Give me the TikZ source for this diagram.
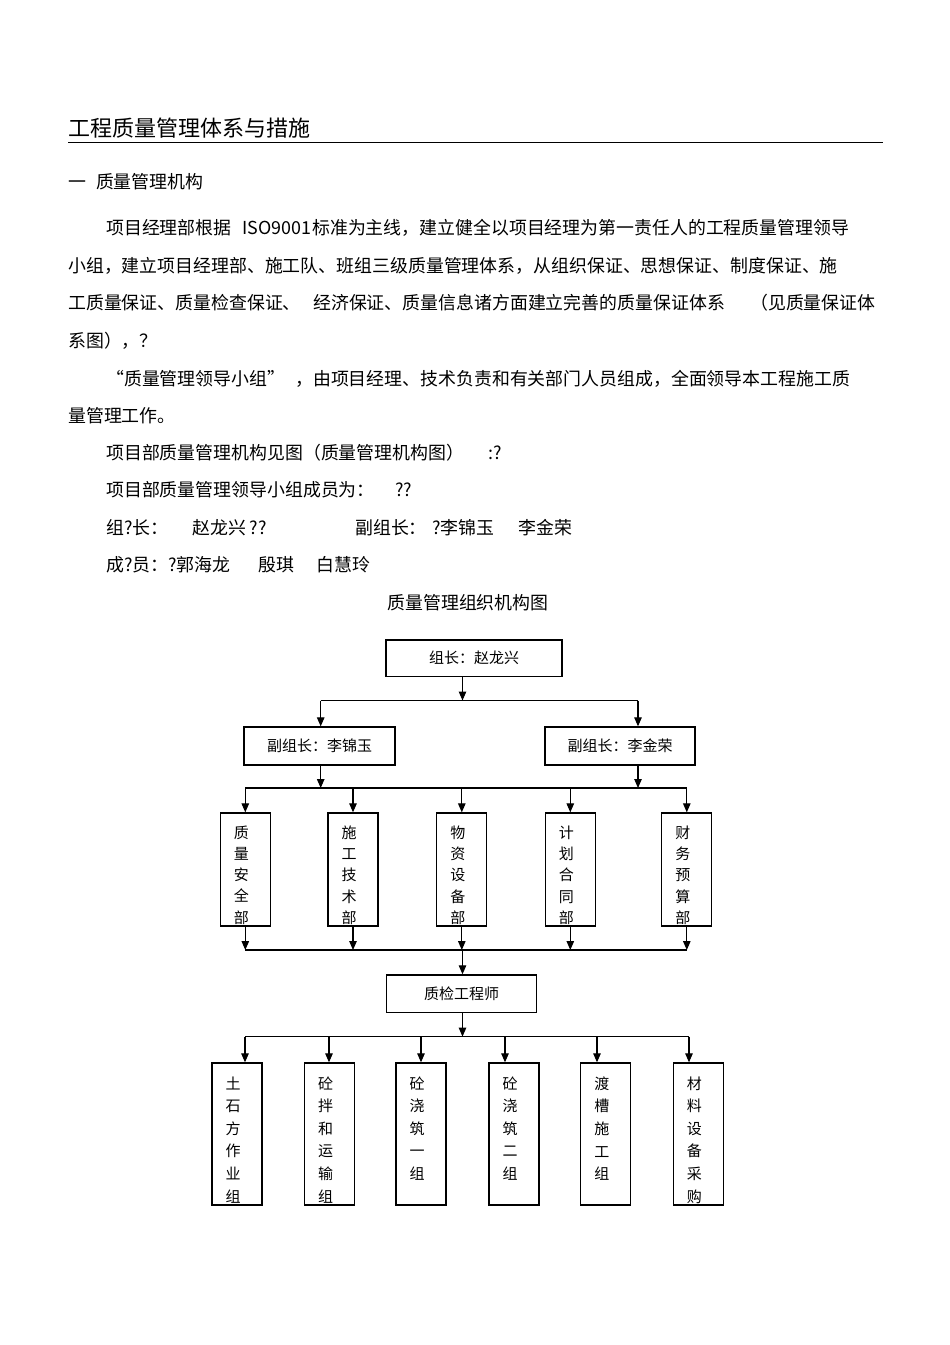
\documentclass[tikz,border=0pt]{standalone}
\usepackage{fontspec}
\setmainfont{Noto Sans CJK SC}
\newfontfamily\zhfull[CharacterWidth=Full]{Noto Sans CJK SC}
\usetikzlibrary{arrows.meta,positioning}

\begin{document}
\begin{tikzpicture}[x=1pt, y=-1pt,
    txt/.style={anchor=base west, inner sep=0pt, font=\fontsize{17.9}{20}\selectfont},
    hbox/.style={draw, line width=1.3pt, inner sep=0pt, font=\fontsize{15}{18}\selectfont},
    vbox/.style={draw, line width=1.3pt, inner sep=0pt, minimum width=50pt},
    vtxt/.style={anchor=north, inner sep=0pt, align=center, xshift=-4pt,
        font=\fontsize{15}{#1}\selectfont},
    arr/.style={-{Triangle[length=9pt,width=7.5pt]}, line width=1.1pt},
    bus/.style={line width=1.1pt}]
\useasboundingbox (0,0) rectangle (950,1345);
\fill[white] (0,0) rectangle (950,1345);

% heading and text
\node[txt, font=\fontsize{22}{24}\selectfont] (title) at (68,136.4) {工程质量管理体系与措施};
\draw[line width=1pt] (68,142) -- (883,142);
\node[txt] (sec) at (68,188.8) {一\hspace{10pt}质量管理机构};
\node[txt] (p1a) at (106,234.8) {项目经理部根据};
\node[txt] (p1b) at (242,234.8) {ISO9001};
\node[txt] (p1c) at (312,234.8) {标准为主线，建立健全以项目经理为第一责任人的工程质量管理领导};
\node[txt] (p2)  at (68,272.8) {小组，建立项目经理部、施工队、班组三级质量管理体系，从组织保证、思想保证、制度保证、施};
\node[txt] (p3a) at (68,309.8) {工质量保证、质量检查保证、};
\node[txt] (p3b) at (313,309.8) {经济保证、质量信息诸方面建立完善的质量保证体系};
\node[txt] (p3c) at (750,309.8) {（见质量保证体};
\node[txt] (p4)  at (68,347.8) {系图），？};
\node[txt] (p5a) at (106,385.8) {\zhfull “质量管理领导小组”};
\node[txt] (p5b) at (295,385.8) {，由项目经理、技术负责和有关部门人员组成，全面领导本工程施工质};
\node[txt] (p6)  at (68,422.8) {量管理工作。};
\node[txt] (p7a) at (106,459.8) {项目部质量管理机构见图（质量管理机构图）};
\node[txt] (p7b) at (488,459.8) {:?};
\node[txt] (p8a) at (106,496.8) {项目部质量管理领导小组成员为：};
\node[txt] (p8b) at (395,496.8) {??};
\node[txt] (p9a) at (106,534.8) {组?长：};
\node[txt] (p9b) at (192,534.8) {赵龙兴 ??};
\node[txt] (p9c) at (355,534.8) {副组长：};
\node[txt] (p9d) at (432,534.8) {?李锦玉};
\node[txt] (p9e) at (518,534.8) {李金荣};
\node[txt] (p10a) at (106,571.8) {成?员：?郭海龙};
\node[txt] (p10b) at (258,571.8) {殷琪};
\node[txt] (p10c) at (316,571.8) {白慧玲};
\node[txt, anchor=base] (cap) at (468,609.8) {质量管理组织机构图};

% chart boxes
\node[hbox, minimum width=176pt, minimum height=36.7pt] (lead) at (474,658.3) {组长：赵龙兴};
\node[hbox, minimum width=151pt, minimum height=38pt] (vl1) at (319.5,746) {副组长：李锦玉};
\node[hbox, minimum width=150pt, minimum height=38pt] (vl2) at (620,746) {副组长：李金荣};

\node[vbox, minimum height=113pt] (d1) at (245.3,869.5) {};
\node[vbox, minimum height=113pt] (d2) at (353,869.5) {};
\node[vbox, minimum height=113pt] (d3) at (461.8,869.5) {};
\node[vbox, minimum height=113pt] (d4) at (570.3,869.5) {};
\node[vbox, minimum height=113pt] (d5) at (686.8,869.5) {};
\node[vtxt=21.3] (d1t) at ([yshift=-13pt]d1.north) {质\\量\\安\\全\\部};
\node[vtxt=21.3] (d2t) at ([yshift=-13pt]d2.north) {施\\工\\技\\术\\部};
\node[vtxt=21.3] (d3t) at ([yshift=-13pt]d3.north) {物\\资\\设\\备\\部};
\node[vtxt=21.3] (d4t) at ([yshift=-13pt]d4.north) {计\\划\\合\\同\\部};
\node[vtxt=21.3] (d5t) at ([yshift=-13pt]d5.north) {财\\务\\预\\算\\部};

\node[hbox, minimum width=150pt, minimum height=37.7pt] (qc) at (461.7,993.8) {质检工程师};

\node[vbox, minimum height=142pt] (g1) at (237,1134) {};
\node[vbox, minimum height=142pt] (g2) at (329.6,1134) {};
\node[vbox, minimum height=142pt] (g3) at (421,1134) {};
\node[vbox, minimum height=142pt] (g4) at (514,1134) {};
\node[vbox, minimum height=142pt] (g5) at (605.8,1134) {};
\node[vbox, minimum height=142pt] (g6) at (698.4,1134) {};
\node[vtxt=22.6] (g1t) at ([yshift=-14pt]g1.north) {土\\石\\方\\作\\业\\组};
\node[vtxt=22.6] (g2t) at ([yshift=-14pt]g2.north) {砼\\拌\\和\\运\\输\\组};
\node[vtxt=22.6] (g3t) at ([yshift=-14pt]g3.north) {砼\\浇\\筑\\一\\组};
\node[vtxt=22.6] (g4t) at ([yshift=-14pt]g4.north) {砼\\浇\\筑\\二\\组};
\node[vtxt=22.6] (g5t) at ([yshift=-14pt]g5.north) {渡\\槽\\施\\工\\组};
\node[vtxt=22.6] (g6t) at ([yshift=-14pt]g6.north) {材\\料\\设\\备\\采\\购};

% buses
\coordinate (m) at (462.5,0);
\coordinate (b1l) at (320.7,700.5);
\coordinate (b1r) at (638,700.5);
\coordinate (b2l) at (245.3,788);
\coordinate (b2r) at (686.8,788);
\coordinate (b3l) at (245.3,950);
\coordinate (b3r) at (686.8,950);
\coordinate (t1) at (245,1036.6);
\coordinate (t2) at (329,1036.6);
\coordinate (t3) at (421,1036.6);
\coordinate (t4) at (505,1036.6);
\coordinate (t5) at (597,1036.6);
\coordinate (t6) at (689,1036.6);
\draw[bus] (b1l) -- (b1r);
\draw[bus] (b2l) -- (b2r);
\draw[bus] (b3l) -- (b3r);
\draw[bus] (t1) -- (t6);

% connectors
\draw[arr] (lead.south -| m) -- (b1l -| m);
\draw[arr] (b1l) -- (b1l |- vl1.north);
\draw[arr] (b1r) -- (b1r |- vl2.north);
\draw[arr] (vl1.south -| b1l) -- (b2l -| b1l);
\draw[arr] (vl2.south -| b1r) -- (b2l -| b1r);
\draw[arr] (d1.north |- b2l) -- (d1.north);
\draw[arr] (d2.north |- b2l) -- (d2.north);
\draw[arr] (d3.north |- b2l) -- (d3.north);
\draw[arr] (d4.north |- b2l) -- (d4.north);
\draw[arr] (d5.north |- b2l) -- (d5.north);
\draw[arr] (d1.south) -- (d1.south |- b3l);
\draw[arr] (d2.south) -- (d2.south |- b3l);
\draw[arr] (d3.south) -- (d3.south |- b3l);
\draw[arr] (d4.south) -- (d4.south |- b3l);
\draw[arr] (d5.south) -- (d5.south |- b3l);
\draw[arr] (b3l -| m) -- (qc.north -| m);
\draw[arr] (qc.south -| m) -- (t1 -| m);
\draw[arr] (t1) -- (t1 |- g1.north);
\draw[arr] (t2) -- (t2 |- g2.north);
\draw[arr] (t3) -- (t3 |- g3.north);
\draw[arr] (t4) -- (t4 |- g4.north);
\draw[arr] (t5) -- (t5 |- g5.north);
\draw[arr] (t6) -- (t6 |- g6.north);
\end{tikzpicture}
\end{document}
